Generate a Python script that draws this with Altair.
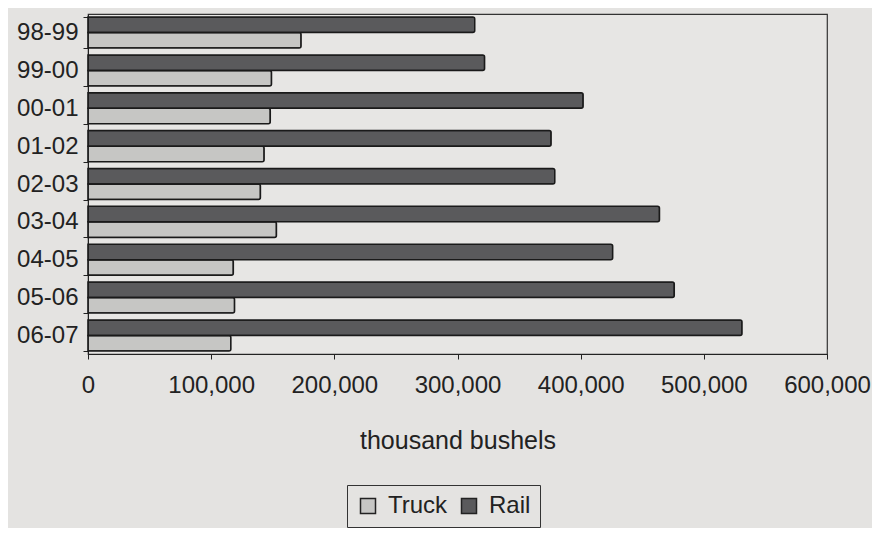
import altair as alt
import pandas as pd

seasons = ["98-99", "99-00", "00-01", "01-02", "02-03", "03-04", "04-05", "05-06", "06-07"]
truck = [173000, 149000, 148000, 143000, 140000, 153000, 118000, 119000, 116000]
rail = [314000, 322000, 402000, 376000, 379000, 464000, 426000, 476000, 531000]
modes = ["Truck", "Rail"]
x_ticks = [0, 100000, 200000, 300000, 400000, 500000, 600000]

rows = []
for s, t, r in zip(seasons, truck, rail):
    rows.append({"season": s, "mode": "Truck", "value": t})
    rows.append({"season": s, "mode": "Rail", "value": r})
df = pd.DataFrame(rows)

FONT = "Liberation Sans"
FS = 24

bars = alt.Chart(df).mark_bar(stroke="#1a1a1a", strokeWidth=1.5, cornerRadiusEnd=2).encode(
    x=alt.X("value:Q",
            scale=alt.Scale(domain=[0, 600000], nice=False),
            axis=alt.Axis(values=x_ticks, format=",d", title="thousand bushels",
                          grid=False, labelFontSize=FS, titleFontSize=25,
                          labelOverlap=False, labelFlush=False,
                          titleFontWeight="normal", labelPadding=14, titlePadding=31,
                          tickSize=5, domainColor="#222", tickColor="#222",
                          labelColor="#222", titleColor="#222", labelFont=FONT,
                          titleFont=FONT)),
    y=alt.Y("season:N", sort=seasons,
            scale=alt.Scale(paddingInner=0.18, paddingOuter=0.08),
            axis=alt.Axis(title=None, labelFontSize=FS, labelPadding=5, tickSize=5,
                          tickBand="extent", domainColor="#222", tickColor="#222",
                          labelColor="#222", labelFont=FONT)),
    yOffset=alt.YOffset("mode:N", sort=["Rail", "Truck"]),
    color=alt.Color("mode:N",
                    scale=alt.Scale(domain=modes, range=["#c6c6c4", "#5a5a5c"]),
                    legend=alt.Legend(title=None, orient="none", direction="horizontal",
                                      legendX=259, legendY=471, labelFontSize=FS,
                                      labelFont=FONT, labelColor="#222",
                                      symbolType="square", symbolSize=225,
                                      symbolStrokeColor="#222", symbolStrokeWidth=1.5,
                                      strokeColor="#333", padding=9, columnPadding=9,
                                      labelOffset=8)),
)

chart = bars.properties(
    width=739, height=340,
    background="#e4e3e1",
    padding={"left": 80, "top": 6, "right": 45, "bottom": 174},
    autosize=alt.AutoSizeParams(type="none"),
).configure_view(
    stroke="#333", strokeWidth=1.2, fill="#e7e6e4"
)

chart.save("out.html", embed_options={"renderer": "svg", "actions": False})
